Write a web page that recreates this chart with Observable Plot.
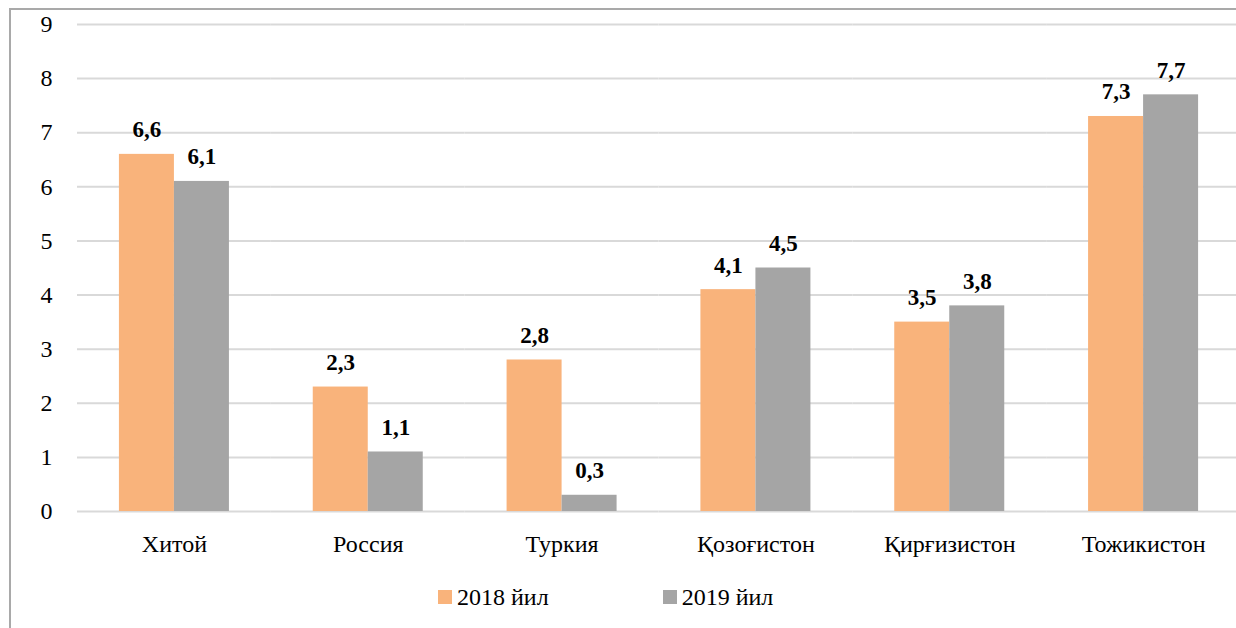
<!DOCTYPE html>
<html>
<head>
<meta charset="utf-8">
<script src="https://cdn.jsdelivr.net/npm/d3@7"></script>
<script src="https://cdn.jsdelivr.net/npm/@observablehq/plot@0.6"></script>
<style>
  html, body { margin: 0; padding: 0; background: #fff; }
  #wrap { position: relative; width: 1236px; height: 628px; overflow: hidden; background: #fff;
          font-family: "Liberation Serif", "DejaVu Serif", "Times New Roman", serif; }
  #frame { position: absolute; left: 9px; top: 8px; width: 1400px; height: 800px;
           border-left: 2px solid #a9a9a9; border-top: 2px solid #a9a9a9; }
  #chart { position: absolute; left: 0; top: 0; width: 1240px; }
  #chart svg { max-width: none !important; }
  #legend { position: absolute; left: 438px; top: 585px; display: flex; align-items: center;
            font-size: 24px; line-height: 24px; color: #000; }
  .item { display: flex; align-items: center; }
  .sw { width: 14px; height: 14px; margin-right: 5px; }
</style>
</head>
<body>
<div id="wrap">
  <div id="frame"></div>
  <div id="chart"></div>
  <div id="legend"></div>
</div>
<script>
const categories = ["Хитой", "Россия", "Туркия", "Қозоғистон", "Қирғизистон", "Тожикистон"];
const years = ["2018 йил", "2019 йил"];
const values2018 = [6.6, 2.3, 2.8, 4.1, 3.5, 7.3];
const values2019 = [6.1, 1.1, 0.3, 4.5, 3.8, 7.7];
const yTicks = [0, 1, 2, 3, 4, 5, 6, 7, 8, 9];
const colors = ["#F9B37B", "#A5A5A5"];

const data = [];
categories.forEach((c, i) => {
  data.push({category: c, year: years[0], value: values2018[i]});
  data.push({category: c, year: years[1], value: values2019[i]});
});

const fmt = v => String(v).replace(".", ",");
const serif = "'Liberation Serif', 'DejaVu Serif', 'Times New Roman', serif";

const chart = Plot.plot({
  width: 1240,
  height: 575,
  marginLeft: 77,
  marginRight: 0,
  marginTop: 24,
  marginBottom: 64,
  style: {fontFamily: serif, fontSize: "24px", color: "#000", background: "transparent", overflow: "visible", maxWidth: "none"},
  fx: {domain: categories, padding: 0, round: false, label: null},
  x: {domain: years, paddingInner: 0, paddingOuter: 0.762, round: false, axis: null},
  y: {domain: [0, 9], label: null},
  color: {domain: years, range: colors},
  marks: [
    Plot.gridY(yTicks, {stroke: "#d9d9d9", strokeOpacity: 1, strokeWidth: 2}),
    Plot.barY(data, {fx: "category", x: "year", y: "value", fill: "year"}),
    Plot.text(data, {fx: "category", x: "year", y: "value", text: d => fmt(d.value),
      lineAnchor: "bottom", dy: -17, fontWeight: "bold", fontSize: 23, fill: "#000", fontFamily: serif}),
    Plot.axisY(yTicks, {tickSize: 0, tickPadding: 25, fontSize: 24, label: null, fill: "#000",
      tickFormat: d => String(d), fontFamily: serif}),
    Plot.axisFx({anchor: "bottom", tickSize: 0, tickPadding: 23, fontSize: 24, label: null, fill: "#000", fontFamily: serif})
  ]
});
document.getElementById("chart").appendChild(chart);

const legend = document.getElementById("legend");
years.forEach((y, i) => {
  const item = document.createElement("div");
  item.className = "item";
  if (i === 0) item.style.marginRight = "114px";
  const sw = document.createElement("div");
  sw.className = "sw";
  sw.style.background = colors[i];
  const t = document.createElement("span");
  t.textContent = y;
  item.appendChild(sw);
  item.appendChild(t);
  legend.appendChild(item);
});
</script>
</body>
</html>
